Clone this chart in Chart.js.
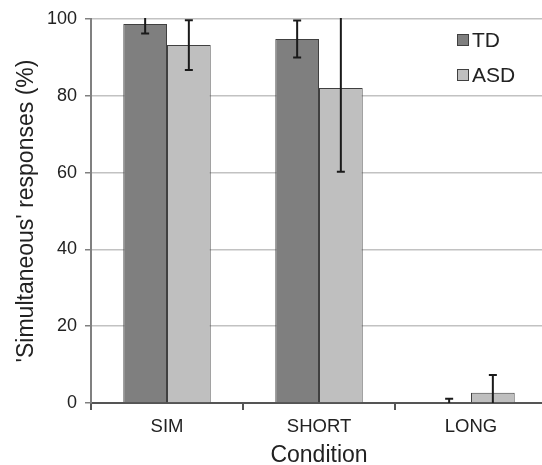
<!DOCTYPE html>
<html>
<head>
<meta charset="utf-8">
<script src="https://cdn.jsdelivr.net/npm/chart.js@4/dist/chart.umd.min.js"></script>
<style>
  body { margin: 0; background: #fff; }
  #wrap { position: relative; width: 542px; height: 465px; overflow: hidden; }
  #chart { display: block; }
  .leg { position: absolute; left: 457px; font-family: "Liberation Sans", Arial, sans-serif; font-size: 21px; color: #222; line-height: 22px; white-space: nowrap; }
  .leg i { display: inline-block; width: 10px; height: 10px; border: 1px solid #404040; margin-right: 3px; vertical-align: 1px; }
</style>
</head>
<body>
<div id="wrap">
  <!-- 圖表區右邊在原圖被裁掉，所以畫布比視窗略寬 -->
  <canvas id="chart" width="547" height="465"></canvas>
  <div class="leg" style="top:29px"><i style="background:#7f7f7f"></i>TD</div>
  <div class="leg" style="top:64px"><i style="background:#bfbfbf"></i>ASD</div>
</div>
<script>
// 資料
const categories = ['SIM', 'SHORT', 'LONG'];
const tdValues = [98.7, 94.8, 0];
const tdErrors = [2.5, 4.8, 1.1];
const asdValues = [93.2, 82.0, 2.7];
const asdErrors = [6.5, 21.8, 4.6];
const yTicks = [0, 20, 40, 60, 80, 100];

const FONT = '"Liberation Sans", Arial, sans-serif';

// 誤差線
const errorBars = {
    id: 'errorBars',
    afterDatasetsDraw(chart) {
        const c = chart.ctx;
        const y = chart.scales.y;
        const area = chart.chartArea;
        c.save();
        c.beginPath();
        c.rect(area.left, area.top - 1, area.right - area.left, area.bottom - area.top + 1);
        c.clip();
        c.strokeStyle = '#1a1a1a';
        c.lineWidth = 2;
        chart.data.datasets.forEach((ds, i) => {
            chart.getDatasetMeta(i).data.forEach((bar, j) => {
                const v = ds.data[j], e = ds.errors[j];
                const top = y.getPixelForValue(v + e);
                const bot = y.getPixelForValue(v - e);
                c.beginPath();
                c.moveTo(bar.x, top); c.lineTo(bar.x, bot);
                c.moveTo(bar.x - 4, top); c.lineTo(bar.x + 4, top);
                c.moveTo(bar.x - 4, bot); c.lineTo(bar.x + 4, bot);
                c.stroke();
            });
        });
        c.restore();
    }
};

new Chart(document.getElementById('chart'), {
    type: 'bar',
    data: {
        labels: categories,
        datasets: [
            { label: 'TD', data: tdValues, errors: tdErrors, backgroundColor: '#7f7f7f', borderColor: '#404040', borderWidth: 1 },
            { label: 'ASD', data: asdValues, errors: asdErrors, backgroundColor: '#bfbfbf', borderColor: '#404040', borderWidth: 1 }
        ]
    },
    plugins: [errorBars],
    options: {
        responsive: false,
        animation: false,
        devicePixelRatio: 1,
        layout: { padding: { top: 19, right: 0, left: 0, bottom: 0 } },
        datasets: { bar: { barPercentage: 1, categoryPercentage: 0.575 } },
        plugins: { legend: { display: false }, tooltip: { enabled: false } },
        scales: {
            x: {
                afterFit(s) { s.height = 62; },
                border: { color: '#555', width: 2 },
                grid: { offset: true, drawOnChartArea: false, tickLength: 7, tickColor: '#555', lineWidth: 2 },
                ticks: { color: '#222', font: { family: FONT, size: 18.5 }, padding: 6 },
                title: { display: true, text: 'Condition', color: '#222', font: { family: FONT, size: 23, lineHeight: 0.8 }, padding: 0 }
            },
            y: {
                min: 0, max: 100,
                afterFit(s) { s.width = 91; },
                afterBuildTicks(s) { s.ticks = yTicks.map(v => ({ value: v })); },
                border: { color: '#808080', width: 2 },
                grid: { color: '#c2c2c2', lineWidth: 1.5, tickLength: 6, tickColor: '#808080' },
                ticks: { color: '#222', font: { family: FONT, size: 18 }, padding: 8 },
                title: { display: true, text: "'Simultaneous' responses (%)", color: '#222', font: { family: FONT, size: 23 }, padding: 13 }
            }
        }
    }
});
</script>
</body>
</html>
